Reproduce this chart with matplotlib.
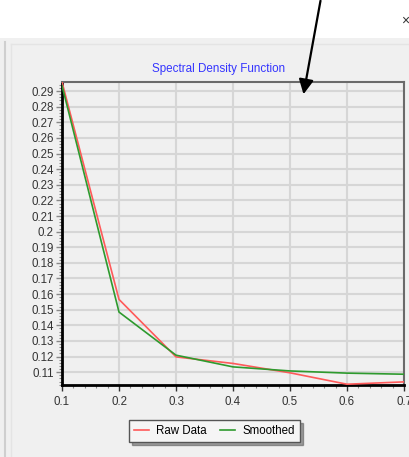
import matplotlib
matplotlib.use("Agg")
import matplotlib.pyplot as plt
from matplotlib.ticker import MultipleLocator, FuncFormatter
from matplotlib.patches import Rectangle, FancyArrowPatch
from matplotlib.lines import Line2D

# Data
freq = [0.1, 0.2, 0.3, 0.4, 0.5, 0.6, 0.7]
raw_data = [0.2958, 0.1566, 0.1198, 0.1156, 0.1096, 0.1023, 0.1038]
smoothed = [0.2935, 0.1485, 0.1209, 0.1134, 0.1108, 0.1094, 0.1087]
title = "Spectral Density Function"
series_names = ["Raw Data", "Smoothed"]

W, H = 409, 457
plt.rcParams['font.family'] = ['Liberation Sans', 'DejaVu Sans']
fig = plt.figure(figsize=(W / 100, H / 100), dpi=100)
fig.patch.set_facecolor("#f0f0f0")

def fx(px):
    return px / W

def fy(py):
    return 1 - py / H

# white strip at top
fig.patches.append(Rectangle((0, fy(38)), 1, 1 - fy(38), transform=fig.transFigure,
                             facecolor="white", edgecolor="none", zorder=0))
fig.add_artist(Line2D([fx(4.5), fx(4.5)], [0, fy(42)], transform=fig.transFigure,
                      color="#cfcfcf", lw=1.5))
fig.add_artist(Line2D([fx(11), fx(11)], [0, fy(44)], transform=fig.transFigure,
                      color="#e4e4e4", lw=1.0))
fig.add_artist(Line2D([fx(11), 1], [fy(44), fy(44)], transform=fig.transFigure,
                      color="#e4e4e4", lw=1.0))

ax = fig.add_axes([fx(62), fy(385), fx(404) - fx(62), fy(82) - fy(385)])
ax.set_facecolor("#f0f0f0")

ax.plot(freq, raw_data, color="#ff5a5a", lw=1.2, label=series_names[0], zorder=3)
ax.plot(freq, smoothed, color="#2e9a2e", lw=1.2, label=series_names[1], zorder=3)

ax.set_xlim(0.1, 0.7)
ax.set_ylim(0.1018, 0.2958)

ax.xaxis.set_major_locator(MultipleLocator(0.1))
ax.xaxis.set_minor_locator(MultipleLocator(0.02))
ax.yaxis.set_major_locator(MultipleLocator(0.01))
ax.yaxis.set_minor_locator(MultipleLocator(0.002))
fmt = FuncFormatter(lambda v, p: f"{round(v, 3):g}")
ax.xaxis.set_major_formatter(fmt)
ax.yaxis.set_major_formatter(fmt)

ax.grid(True, which="major", color="#d6d6d6", lw=1.5, zorder=1)
ax.set_axisbelow(True)

ax.tick_params(axis="both", which="major", labelsize=8.3, colors="#333333",
               length=4, width=1.0, direction="out")
ax.tick_params(axis="both", which="minor", length=2.5, width=0.8, colors="#888888",
               direction="out")
ax.tick_params(axis="x", which="major", pad=4, color="#333333")
ax.tick_params(axis="y", which="major", pad=2, color="#888888")

for s in ["left", "bottom"]:
    ax.spines[s].set_color("black")
    ax.spines[s].set_linewidth(2.0)
for s in ["top", "right"]:
    ax.spines[s].set_color("#6a6a6a")
    ax.spines[s].set_linewidth(1.5)

fig.text(fx(219), fy(69), title, color="#3535ff", fontsize=8.4,
         ha="center", va="center")

leg = fig.legend(loc="center", bbox_to_anchor=(fx(214.5), fy(431)),
                 ncol=2, fontsize=8.3, frameon=True, fancybox=False, shadow=True,
                 edgecolor="#555555", facecolor="#f5f5f5", framealpha=1,
                 handlelength=1.3, handletextpad=0.6, columnspacing=1.2,
                 borderpad=0.45)
leg.get_frame().set_linewidth(1.0)

# arrow annotation
arrow = FancyArrowPatch((fx(321), fy(-2)), (fx(303), fy(97)), transform=fig.transFigure,
                        arrowstyle="-|>", mutation_scale=22, color="black", lw=1.6,
                        zorder=10)
fig.patches.append(arrow)

fig.text(fx(405), fy(21), "×", fontsize=10, color="#333333", ha="center", va="center")

fig.savefig("out.png", dpi=100, facecolor=fig.get_facecolor())
